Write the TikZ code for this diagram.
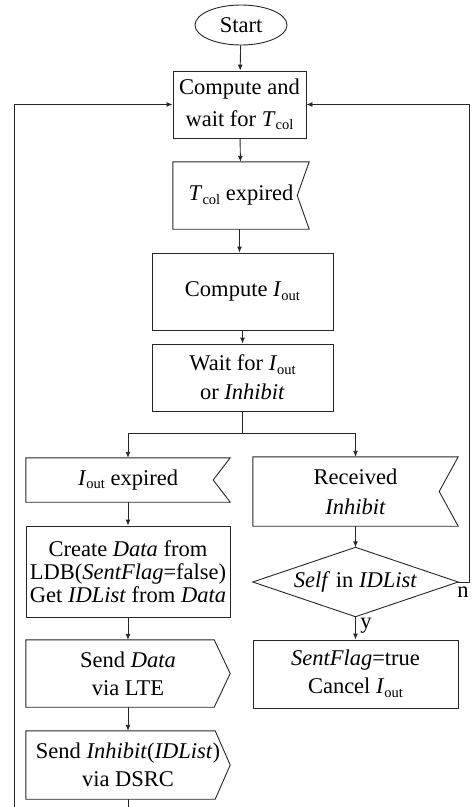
\documentclass[tikz,border=0pt]{standalone}
\usepackage{fontspec}
\setmainfont{Liberation Serif}
\usetikzlibrary{arrows.meta,shapes.geometric}

% lowered, smaller upright index (T_col, I_out)
\newcommand\lowsub[1]{\raisebox{-3.5pt}{\fontsize{14.5}{14.5}\selectfont #1}}

\tikzset{
  line/.style={line width=0.9pt, draw=black!85},
  arr/.style={line, -{Latex[length=6pt,width=5pt]}},
  blk/.style={draw=none, rectangle, inner sep=0pt, align=center,
              font=\fontsize{22.5}{29}\selectfont},
  outline/.style={line},
  lbl/.style={inner sep=0pt, font=\fontsize{22.5}{22.5}\selectfont, anchor=base}
}

\begin{document}
\begin{tikzpicture}[x=1pt,y=-1pt]
\useasboundingbox (0,0) rectangle (473,807);
\clip (0,0) rectangle (473,807);

% ---- main column ----
\node[ellipse, line, minimum width=92pt, minimum height=40pt, inner sep=0pt,
      font=\fontsize{22.5}{29}\selectfont] (start) at (241,25) {Start};

\node[blk, draw, line, minimum width=133pt, minimum height=67pt,
      font=\fontsize{22.5}{31.5}\selectfont] (wait) at (239.5,104.5)
      {Compute and\\wait for \textit{T}\lowsub{col}};

\node[blk, minimum width=136pt, minimum height=67pt] (tcol) at (241,195.5)
      {\textit{T}\lowsub{col} expired};

\node[blk, draw, line, minimum width=181pt, minimum height=77pt] (iout) at (242.5,291.5)
      {Compute \textit{I}\lowsub{out}};

\node[blk, draw, line, minimum width=181pt, minimum height=67pt] (waitio) at (242.5,377.5)
      {Wait for \textit{I}\lowsub{out}\\or \textit{Inhibit}};

\coordinate (split) at (242.5,433);

% ---- left branch ----
\node[blk, minimum width=204pt, minimum height=44pt] (ioutexp) at (128,480)
      {\textit{I}\lowsub{out} expired};

\node[blk, draw, line, minimum width=204pt, minimum height=91pt,
      font=\fontsize{22.5}{23}\selectfont] (create) at (128,571.5)
      {Create \textit{Data} from\\LDB(\textit{SentFlag}=false)\\Get \textit{IDList} from \textit{Data}};

\node[blk, minimum width=204pt, minimum height=67pt, font=\fontsize{22.5}{28}\selectfont]
      (lte) at (128,673.5) {Send \textit{Data}\\via LTE};

\node[blk, minimum width=204pt, minimum height=68pt, font=\fontsize{22.5}{28}\selectfont]
      (dsrc) at (128,765) {Send \textit{Inhibit}(\textit{IDList})\\via DSRC};

% ---- right branch ----
\node[blk, minimum width=205pt, minimum height=69pt, font=\fontsize{22.5}{30}\selectfont]
      (recv) at (355.5,491.5) {Received\\\textit{Inhibit}};

\node[blk, minimum width=205pt, minimum height=69pt] (self) at (355.5,582)
      {\textit{Self} in \textit{IDList}};

\node[blk, draw, line, minimum width=205pt, minimum height=68pt,
      font=\fontsize{22.5}{28}\selectfont] (flag) at (355.5,674)
      {\textit{SentFlag}=true\\Cancel \textit{I}\lowsub{out}};

\node[lbl] (nlbl) at (463,597) {n};
\node[lbl] (ylbl) at (366,628) {y};

% ---- signal outlines (receive: notched, send: pointed) ----
\draw[outline] (tcol.north west) -- (tcol.north east) -- ([xshift=-12pt]tcol.east)
      -- (tcol.south east) -- (tcol.south west) -- cycle;
\draw[outline] (ioutexp.north west) -- (ioutexp.north east) -- ([xshift=-17pt]ioutexp.east)
      -- (ioutexp.south east) -- (ioutexp.south west) -- cycle;
\draw[outline] (recv.north west) -- (recv.north east) -- ([xshift=-19pt]recv.east)
      -- (recv.south east) -- (recv.south west) -- cycle;
\draw[outline] (lte.north west) -- ([xshift=-16pt]lte.north east) -- (lte.east)
      -- ([xshift=-16pt]lte.south east) -- (lte.south west) -- cycle;
\draw[outline] (dsrc.north west) -- ([xshift=-15pt]dsrc.north east) -- (dsrc.east)
      -- ([xshift=-15pt]dsrc.south east) -- (dsrc.south west) -- cycle;
\draw[outline] (self.west) -- (self.north) -- (self.east) -- (self.south) -- cycle;

% ---- connectors ----
\draw[arr] (start) -- (wait);
\draw[arr] (wait) -- (tcol);
\draw[arr] (tcol.south -| wait.south) -- (iout.north -| wait.south);
\draw[arr] (iout) -- (waitio);
\draw[line] (waitio.south) -- (split);
\draw[arr] (split) -| (ioutexp.north);
\draw[arr] (split) -| (recv.north);
\draw[arr] (ioutexp) -- (create);
\draw[arr] (create) -- (lte);
\draw[arr] (lte) -- (dsrc);
\draw[arr] (recv) -- (self);
\draw[arr] (self) -- (flag);

% loop back from the end of the left branch
\coordinate (lbot) at (128,840);
\coordinate (lleft) at (14,840);
\draw[arr] (dsrc.south) -- (lbot) -- (lleft) |- (wait.west);

% "n" exit of the decision back to the wait block
\coordinate (rturn) at (469,582);
\draw[arr] (self.east) -- (rturn) |- (wait.east);
\end{tikzpicture}
\end{document}
